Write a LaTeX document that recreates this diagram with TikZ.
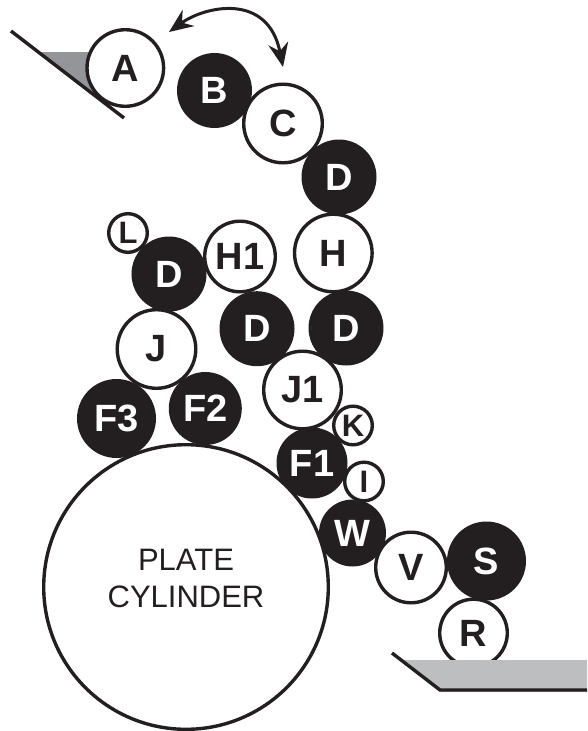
\documentclass[tikz,border=0pt]{standalone}
\usepackage{fontspec}
\setmainfont{Liberation Sans}
\usetikzlibrary{arrows.meta}
\definecolor{ink}{HTML}{231F20}
\definecolor{grayA}{HTML}{939598}
\definecolor{grayB}{HTML}{BCBEC0}
\tikzset{
  x=1pt,y=-1pt,
  roller/.style={circle,inner sep=0pt,outer sep=0pt,line width=3.4pt,minimum size=#1*2pt-3.4pt,font=\fontsize{38}{38}\bfseries\selectfont},
  whiteroller/.style={roller=#1,draw=ink,fill=white,text=ink},
  blackroller/.style={roller=#1,draw=ink,fill=ink,text=white},
  smallroller/.style={whiteroller=#1,font=\fontsize{31}{31}\bfseries\selectfont},
  edgeline/.style={draw=ink,line width=3.4pt},
  swing/.style={draw=ink,line width=3pt,{Stealth[length=24pt,width=20pt,inset=8pt]}-{Stealth[length=24pt,width=20pt,inset=8pt]}},
  platetext/.style={font=\fontsize{31}{37}\selectfont,align=center,text=ink,inner sep=0pt}
}
\begin{document}
\begin{tikzpicture}
\useasboundingbox (0,0) rectangle (587,731);
% plate cylinder
\node[whiteroller=144] (plate) at (186,587) {};
\node[platetext] (platelabel) at (186,578) {PLATE\\CYLINDER};
% top blade
\fill[grayA] (40,52) -- (100,52) -- (100,100) -- (92,94) -- cycle;
\coordinate (ta) at (11,31);
\coordinate (tb) at (124,118);
\draw[edgeline] (ta) -- (tb);
\node[whiteroller=40] (A) at (125.3,68) {A};
\node[blackroller=37.5] (B) at (214.5,90.5) {B};
\node[blackroller=37.5] (D1) at (339,177) {D};
\node[whiteroller=41] (C) at (283,123.5) {C};
\node[blackroller=37.5] (D2) at (346,328) {D};
\node[blackroller=37.5] (D3) at (257,328.7) {D};
\node[whiteroller=40.5] (H) at (333.3,253) {H};
\node[smallroller=21] (L) at (128,233) {L};
\node[blackroller=37.5] (D4) at (169,274) {D};
\node[whiteroller=37] (H1) at (240,256.5) {H1};
\node[blackroller=39.5] (F3) at (116.5,418.5) {F3};
\node[blackroller=36.5] (F2) at (205.3,408.5) {F2};
\node[whiteroller=41] (J) at (156.5,349) {J};
\node[blackroller=35.5] (F1) at (312,463) {F1};
\node[whiteroller=40.5] (J1) at (302.5,390) {J1};
\node[smallroller=21] (K) at (353,425.5) {K};
\node[blackroller=33.5] (W) at (352.5,533) {W};
\node[smallroller=21] (I) at (364,481.5) {I};
\node[whiteroller=35.5] (R) at (473.5,633) {R};
\node[blackroller=39.5] (S) at (486.5,561) {S};
\node[whiteroller=37] (V) at (411,567.5) {V};
% bottom tray
\fill[grayB] (403,660) -- (587,660) -- (587,692) -- (440,692) -- cycle;
\coordinate (ba) at (392,653);
\coordinate (bb) at (440,690);
\coordinate (bc) at (587,690);
\draw[edgeline,line join=miter] (ba) -- (bb) -- (bc);
% swing arrow
\coordinate (sa) at (169,32);
\coordinate (sb) at (283,67);
\draw[swing] (sa) .. controls (205,6) and (268,-8) .. (sb);
\end{tikzpicture}
\end{document}
